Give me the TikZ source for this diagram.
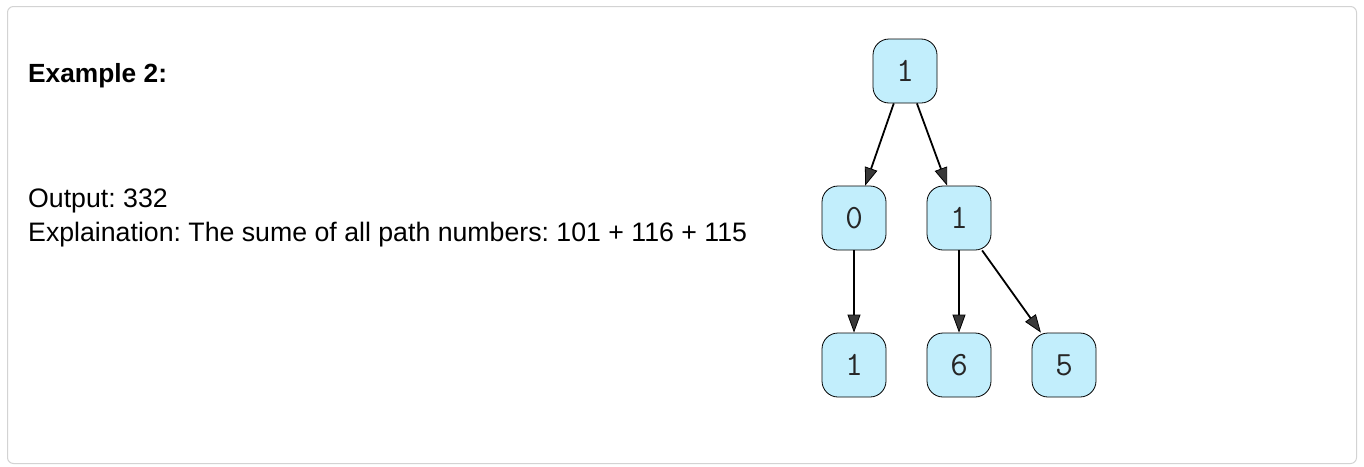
\documentclass[tikz,border=0pt]{standalone}
\usepackage{fontspec}
\setmainfont{Liberation Sans}
\usetikzlibrary{arrows.meta}
\definecolor{nodefill}{HTML}{C2EEFC}
\definecolor{framegray}{HTML}{D3D3D3}
\definecolor{tipgray}{HTML}{383838}
\frenchspacing
\tikzset{
  treenode/.style={draw=black, line width=0.8pt, fill=nodefill, rounded corners=16pt,
    minimum width=64pt, minimum height=64pt, inner sep=0pt,
    font=\ttfamily\fontsize{34}{34}\selectfont, text=black!85},
  edge/.style={draw=black, line width=1.8pt,
    -{Triangle[length=18pt,width=13pt,fill=tipgray,line width=0.8pt]}},
  txt/.style={anchor=base west, inner sep=0pt, font=\fontsize{26.7}{26.7}\selectfont}
}
\begin{document}
\begin{tikzpicture}[x=1pt,y=-1pt]
\useasboundingbox (0,0) rectangle (1364,466);
\draw[framegray, line width=1pt, rounded corners=6pt] (7.5,6.5) rectangle (1356.5,463.5);
\node[txt, font=\bfseries\fontsize{26.3}{26.3}\selectfont] (title) at (28,82) {Example 2:};
\node[txt] (out) at (28,207) {Output: 332};
\node[txt] (expl) at (28,241) {Explaination: The sume of all path numbers: 101 + 116 + 115};
\node[treenode] (r) at (905,71) {1};
\node[treenode] (a) at (854,218) {0};
\node[treenode] (b) at (959,218) {1};
\node[treenode] (c) at (854,365) {1};
\node[treenode] (d) at (959,365) {6};
\node[treenode] (e) at (1064,365) {5};
\draw[edge] (r) -- (a);
\draw[edge] (r) -- (b);
\draw[edge] (a) -- (c);
\draw[edge] (b) -- (d);
\draw[edge] (b) -- (e);
\end{tikzpicture}
\end{document}
